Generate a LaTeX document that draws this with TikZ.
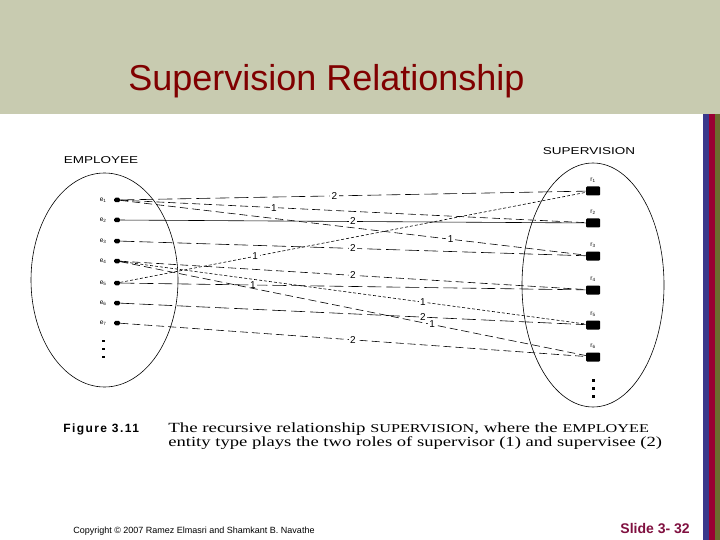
\documentclass[tikz,border=0pt]{standalone}
\usepackage{fontspec}
\setmainfont{Liberation Serif}
\setsansfont{Liberation Sans}
\usepackage{tikz}
\usetikzlibrary{positioning}
\definecolor{bandgray}{RGB}{200,203,176}
\definecolor{titlered}{RGB}{128,0,0}
\definecolor{slidered}{RGB}{128,16,64}
\definecolor{stripeblue}{RGB}{58,56,140}
\definecolor{stripered}{RGB}{153,0,51}
\definecolor{stripeolive}{RGB}{107,107,46}
\newcommand{\wide}[1]{\scalebox{1.35}[1]{#1}}
\newcommand{\smcap}[1]{{\fontsize{12}{12}\selectfont #1}}

\begin{document}
\begin{tikzpicture}[x=1pt,y=-1pt,semithick,
   edot/.style={fill,inner sep=0pt,minimum width=6pt,minimum height=4.5pt,rounded corners=1.5pt},
   rbox/.style={fill,inner sep=0pt,minimum width=14pt,minimum height=9pt,rounded corners=1pt},
   tag/.style={inner sep=0pt,font=\sffamily\fontsize{6.5}{6.5}\selectfont},
   role/.style={fill=white,inner sep=1.5pt,font=\sffamily\fontsize{10}{10}\selectfont},
   longdash/.style={dash pattern=on 14pt off 5pt},
   middash/.style={dash pattern=on 8pt off 4pt},
   shortdash/.style={dash pattern=on 3pt off 2pt}]
  \useasboundingbox (0,0) rectangle (720,540);
  \fill[white] (0,0) rectangle (720,540);
  \fill[bandgray] (0,0) rectangle (720,114);
  \fill[stripeblue] (703,114) rectangle (709,540);
  \fill[stripered] (709,114) rectangle (715,540);
  \fill[stripeolive] (715,114) rectangle (720,540);
  \node[anchor=base west, inner sep=0pt, text=titlered, font=\sffamily\fontsize{36}{40}\selectfont] (title) at (128,91) {Supervision Relationship};

  \draw (104.5,280) ellipse [x radius=73.5pt, y radius=107pt];
  \draw (593,285) ellipse [x radius=71pt, y radius=122pt];
  \node[font=\sffamily\fontsize{10}{10}\selectfont] (emp) at (101,160) {\wide{EMPLOYEE}};
  \node[font=\sffamily\fontsize{10}{10}\selectfont] (sup) at (589,151) {\wide{SUPERVISION}};

  \foreach \i/\y in {1/200,2/220,3/241,4/261,5/283,6/303,7/323} {
    \node[edot] (e\i) at (117,\y) {};
    \node[tag, left=7pt of e\i] {e\textsubscript{\i}};
  }
  \foreach \i/\y in {1/191,2/223,3/256,4/290,5/325,6/357} {
    \node[rbox] (r\i) at (593,\y) {};
    \node[tag, above=3pt of r\i] {r\textsubscript{\i}};
  }
  \foreach \y in {341,349,357} \fill (101.5,\y-1) rectangle +(3,2);
  \foreach \y in {380,388,396} \fill (591.5,\y-1.5) rectangle +(3,3);

  \path (e1) edge[longdash] node[role,pos=.46] {2} (r1);
  \path (e1) edge[middash] node[role,pos=.33] {1} (r2);
  \path (e2) edge node[role,pos=.50] {2} (r2);
  \path (e1) edge[middash] node[role,pos=.71] {1} (r3);
  \path (e3) edge[longdash] node[role,pos=.50] {2} (r3);
  \path (e5) edge[shortdash] node[role,pos=.29] {1} (r1);
  \path (e4) edge[middash] node[role,pos=.50] {2} (r4);
  \path (e5) edge[longdash] node[role,pos=.285] {1} (r4);
  \path (e4) edge[shortdash] node[role,pos=.65] {1} (r5);
  \path (e6) edge[longdash] node[role,pos=.65] {2} (r5);
  \path (e4) edge[middash] node[role,pos=.67] {1} (r6);
  \path (e7) edge[middash] node[role,pos=.50] {2} (r6);

  \node[anchor=base west, inner sep=0pt, font=\sffamily\bfseries\fontsize{12}{12}\selectfont\addfontfeature{LetterSpace=12}] (fig) at (63,432) {Figure 3.11};
  \node[anchor=base west, inner sep=0pt, font=\fontsize{14}{14}\selectfont] (cap1) at (168,432) {\scalebox{1.35}[1]{The recursive relationship \smcap{SUPERVISION}, where the \smcap{EMPLOYEE}}};
  \node[anchor=base west, inner sep=0pt, font=\fontsize{14}{14}\selectfont] (cap2) at (168,446) {\scalebox{1.33}[1]{entity type plays the two roles of supervisor (1) and supervisee (2)}};

  \node[anchor=base west, inner sep=0pt, font=\sffamily\fontsize{9}{9}\selectfont] (copy) at (73,533) {Copyright © 2007 Ramez Elmasri and Shamkant B. Navathe};
  \node[anchor=base east, inner sep=0pt, text=slidered, font=\sffamily\bfseries\fontsize{14}{14}\selectfont] (slide) at (690,533) {Slide 3- 32};
\end{tikzpicture}
\end{document}
